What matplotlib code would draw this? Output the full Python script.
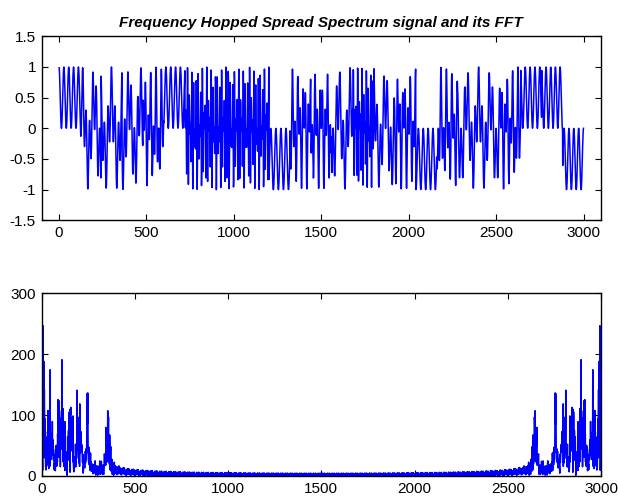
import numpy as np
import matplotlib.pyplot as plt

plt.rcParams['font.family'] = ['Liberation Sans', 'DejaVu Sans']

n_samples = 3000
seg_len = 120

# per 120-sample hop: data bit, difference tone and sum tone (fft bins)
bits = [1, 1, -1, 1, 1, 1, 1, 1, 1, 1,
        -1, 1, 1, 1, -1, 1, -1, -1, 1, 1,
        1, -1, 1, 1, -1]
slow_bins = [0, 45, 45, 45, 92, 0, 245, 245, 245, 245,
             0, 92, 92, 45, 245, 45, 92, 0, 92, 45,
             45, 92, 0, 0, 0]
fast_bins = [108, 155, 150, 160, 200, 108, 355, 355, 350, 355,
             104, 200, 205, 155, 360, 155, 200, 108, 195, 150,
             150, 200, 108, 112, 108]

n = np.arange(1, n_samples + 1)
seg = (n - 1) // seg_len
b = np.array(bits)[seg]
fs = np.array(slow_bins)[seg]
ff = np.array(fast_bins)[seg]
freq_hopped_sig = (0.5 * b * np.cos(2 * np.pi * fs * n / n_samples)
                   + 0.5 * np.cos(2 * np.pi * ff * n / n_samples))
spectrum = np.abs(np.fft.fft(freq_hopped_sig))

fig = plt.figure(figsize=(6.18, 4.99), dpi=100)

ax1 = fig.add_axes([0.0672, 0.5585, 0.9053, 0.3687])
ax1.plot(n, freq_hopped_sig, color='blue', lw=1.1)
ax1.set_xlim(-100, 3100)
ax1.set_ylim(-1.5, 1.5)
ax1.set_xticks(range(0, 3001, 500))
ax1.set_yticks([-1.5, -1, -0.5, 0, 0.5, 1, 1.5])
ax1.set_yticklabels(['-1.5', '-1', '-0.5', '0', '0.5', '1', '1.5'])
ax1.set_title('Frequency Hopped Spread Spectrum signal and its FFT',
              fontweight='bold', fontstyle='italic', fontsize=11, pad=7)

ax2 = fig.add_axes([0.0672, 0.0461, 0.9053, 0.3661])
ax2.plot(n, spectrum, color='blue', lw=1.1)
ax2.set_xlim(0, 3000)
ax2.set_ylim(0, 300)
ax2.set_xticks(range(0, 3001, 500))
ax2.set_yticks([0, 100, 200, 300])

for ax in (ax1, ax2):
    ax.tick_params(direction='in', top=True, right=True, labelsize=11,
                   length=4, width=0.8, pad=4)
    for sp in ax.spines.values():
        sp.set_linewidth(1.0)

fig.savefig('out.png', dpi=100)
